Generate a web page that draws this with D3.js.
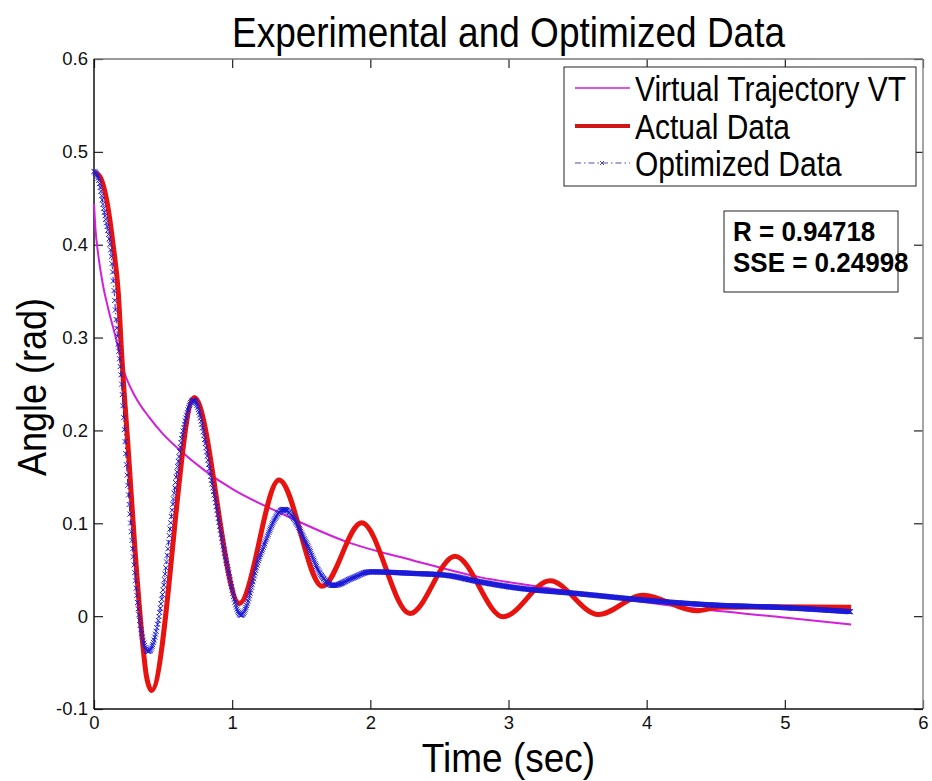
<!DOCTYPE html>
<meta charset="utf-8">
<script src="https://d3js.org/d3.v7.min.js"></script>
<style>
  body { margin: 0; background: #fff; }
  text { font-family: "Liberation Sans", Arial, sans-serif; }
</style>
<div id="chart"></div>
<script>

// Virtual trajectory (magenta)
var vtTime  = [0, 0.01, 0.03, 0.067, 0.1, 0.157, 0.21, 0.3, 0.4, 0.5, 0.62, 0.8, 1.0, 1.35, 1.83, 2.31, 2.79, 3.16, 3.52, 4.24, 4.96, 5.48];
var vtAngle = [0.444, 0.418, 0.39, 0.355, 0.333, 0.300, 0.267, 0.236, 0.214, 0.196, 0.179, 0.157, 0.137, 0.111, 0.080, 0.060, 0.042, 0.033, 0.025, 0.010, -0.001, -0.009];

// Actual data (red)
var actTime  = [0, 0.04, 0.092, 0.14, 0.176, 0.2, 0.248, 0.297, 0.345, 0.38, 0.417, 0.726, 1.052, 1.339, 1.652, 1.937, 2.287, 2.613, 2.962, 3.30, 3.65, 3.975, 4.36, 4.52, 4.9, 5.48];
var actAngle = [0.478, 0.474, 0.448, 0.398, 0.348, 0.283, 0.179, 0.071, -0.018, -0.065, -0.080, 0.2355, 0.0137, 0.1465, 0.0323, 0.1005, 0.0029, 0.0646, -0.0007, 0.038, 0.0018, 0.0226, 0.0057, 0.0095, 0.0100, 0.0095];

// Optimized data (blue)
var optTime  = [0, 0.03, 0.068, 0.128, 0.164, 0.2, 0.236, 0.285, 0.333, 0.393, 0.50, 0.574, 0.646, 0.719, 0.863, 0.96, 1.064, 1.2, 1.375, 1.539, 1.636, 1.732, 1.87, 1.998, 2.31, 2.55, 2.79, 3.03, 3.52, 4.0, 4.48, 4.96, 5.48];
var optAngle = [0.479, 0.472, 0.441, 0.383, 0.312, 0.25, 0.161, 0.064, -0.0075, -0.038, 0.028, 0.125, 0.20, 0.2326, 0.136, 0.057, 0.001, 0.064, 0.115, 0.078, 0.046, 0.033, 0.041, 0.0477, 0.046, 0.044, 0.037, 0.031, 0.024, 0.017, 0.012, 0.0094, 0.0047];

var xTicks = [0, 1, 2, 3, 4, 5, 6];
var yTicks = [-0.1, 0, 0.1, 0.2, 0.3, 0.4, 0.5, 0.6];
var legendNames = ["Virtual Trajectory VT", "Actual Data", "Optimized Data"];
var statLines = ["R = 0.94718", "SSE = 0.24998"];

var W = 932, H = 781;
var plot = {left: 94, right: 923, top: 59, bottom: 709};
var stretch = 1.15; // the original text is a bit taller than wide

var svg = d3.select("#chart").append("svg")
    .attr("width", W)
    .attr("height", H);

svg.append("rect").attr("width", W).attr("height", H).attr("fill", "#fff");

var x = d3.scaleLinear().domain([0, 6]).range([plot.left, plot.right]);
var y = d3.scaleLinear().domain([-0.1, 0.6]).range([plot.bottom, plot.top]);

function fmt(d) { return d === 0 ? "0" : String(+d.toFixed(1)); }

// axes (ticks point inward, like matlab)
var gx = svg.append("g")
    .attr("transform", "translate(0," + plot.bottom + ")")
    .call(d3.axisBottom(x).tickValues(xTicks).tickSize(-9).tickSizeOuter(0).tickPadding(7).tickFormat(fmt));
var gy = svg.append("g")
    .attr("transform", "translate(" + plot.left + ",0)")
    .call(d3.axisLeft(y).tickValues(yTicks).tickSize(-9).tickSizeOuter(0).tickPadding(6).tickFormat(fmt));
var gt = svg.append("g")
    .attr("transform", "translate(0," + plot.top + ")")
    .call(d3.axisTop(x).tickValues(xTicks).tickSize(-9).tickSizeOuter(0).tickFormat(""));
var gr = svg.append("g")
    .attr("transform", "translate(" + plot.right + ",0)")
    .call(d3.axisRight(y).tickValues(yTicks).tickSize(-9).tickSizeOuter(0).tickFormat(""));

[gx, gy, gt, gr].forEach(function(g) {
  g.select(".domain").remove();
  g.selectAll("line").attr("stroke", "#222").attr("stroke-width", 1.2);
  g.selectAll("text").attr("font-size", 18.5).attr("fill", "#111")
    .style("font-family", "'Liberation Sans', Arial, sans-serif");
});

// box
svg.append("line").attr("x1", plot.left).attr("x2", plot.right).attr("y1", plot.top).attr("y2", plot.top)
  .attr("stroke", "#777").attr("stroke-width", 1.5);
svg.append("line").attr("x1", plot.right).attr("x2", plot.right).attr("y1", plot.top).attr("y2", plot.bottom)
  .attr("stroke", "#888").attr("stroke-width", 1.5);
svg.append("line").attr("x1", plot.left).attr("x2", plot.right).attr("y1", plot.bottom).attr("y2", plot.bottom)
  .attr("stroke", "#111").attr("stroke-width", 1.5);
svg.append("line").attr("x1", plot.left).attr("x2", plot.left).attr("y1", plot.top).attr("y2", plot.bottom)
  .attr("stroke", "#111").attr("stroke-width", 1.5);

function zip(ts, vs) { return ts.map(function(t, i) { return [t, vs[i]]; }); }

var line = d3.line()
    .x(function(d) { return x(d[0]); })
    .y(function(d) { return y(d[1]); })
    .curve(d3.curveMonotoneX);

svg.append("path")
    .datum(zip(vtTime, vtAngle))
    .attr("d", line)
    .attr("fill", "none")
    .attr("stroke", "#d21fdc")
    .attr("stroke-width", 2);

svg.append("path")
    .datum(zip(actTime, actAngle))
    .attr("d", line)
    .attr("fill", "none")
    .attr("stroke", "#e8120f")
    .attr("stroke-width", 5)
    .attr("stroke-linejoin", "round");

var optPath = svg.append("path")
    .datum(zip(optTime, optAngle))
    .attr("d", line)
    .attr("fill", "none")
    .attr("stroke", "#2020c8")
    .attr("stroke-width", 1)
    .attr("stroke-dasharray", "6,3,1.5,3");

// x markers every dt seconds along the optimized curve
var node = optPath.node();
var total = node.getTotalLength();
var dt = 0.005, stepX = x(dt) - x(0), nextX = x(0), m = 2.5, md = "";
for (var l = 0; l <= total; l += 0.3) {
  var p = node.getPointAtLength(l);
  if (p.x >= nextX) {
    md += "M" + (p.x - m) + "," + (p.y - m) + "L" + (p.x + m) + "," + (p.y + m) +
          "M" + (p.x - m) + "," + (p.y + m) + "L" + (p.x + m) + "," + (p.y - m);
    nextX += stepX;
  }
}
svg.append("path").attr("d", md).attr("fill", "none")
  .attr("stroke", "#1a1ad8").attr("stroke-width", 1);

// title and labels
function tallText(tx, ty, size, str, extra, k) {
  return svg.append("text")
    .attr("transform", "translate(" + tx + "," + ty + ")" + (extra || "") + " scale(1," + (k || stretch) + ")")
    .attr("font-size", size)
    .text(str);
}

tallText((plot.left + plot.right) / 2, 47, 37, "Experimental and Optimized Data")
  .attr("text-anchor", "middle");
tallText((plot.left + plot.right) / 2, 772, 37, "Time (sec)", "", 1.1)
  .attr("text-anchor", "middle");
tallText(46, 387, 36, "Angle (rad)", " rotate(-90)")
  .attr("text-anchor", "middle");

// legend
var leg = svg.append("g");
leg.append("rect").attr("x", 564).attr("y", 67).attr("width", 352).attr("height", 119)
  .attr("fill", "#fff").attr("stroke", "#222").attr("stroke-width", 1);
var rowY = [88, 126, 163];
leg.append("line").attr("x1", 575).attr("x2", 630).attr("y1", rowY[0]).attr("y2", rowY[0])
  .attr("stroke", "#d21fdc").attr("stroke-width", 1.5);
leg.append("line").attr("x1", 575).attr("x2", 630).attr("y1", rowY[1]).attr("y2", rowY[1])
  .attr("stroke", "#d01515").attr("stroke-width", 4);
leg.append("line").attr("x1", 575).attr("x2", 630).attr("y1", rowY[2]).attr("y2", rowY[2])
  .attr("stroke", "#4a4ab0").attr("stroke-width", 1).attr("stroke-dasharray", "6,3,1.5,3");
leg.append("path").attr("d", "M600," + (rowY[2] - 2) + "l4,4M600," + (rowY[2] + 2) + "l4,-4")
  .attr("stroke", "#4a4ab0").attr("stroke-width", 1);
legendNames.forEach(function(name, i) {
  tallText(635, rowY[i] + 13, 30, name);
});

// stats box
svg.append("rect").attr("x", 724).attr("y", 211).attr("width", 174).attr("height", 81)
  .attr("fill", "#fff").attr("stroke", "#222").attr("stroke-width", 1);
statLines.forEach(function(s, i) {
  svg.append("text")
    .attr("transform", "translate(733," + (241 + i * 31) + ") scale(1,1.08)")
    .attr("font-size", 26)
    .attr("font-weight", "bold")
    .text(s);
});

</script>
